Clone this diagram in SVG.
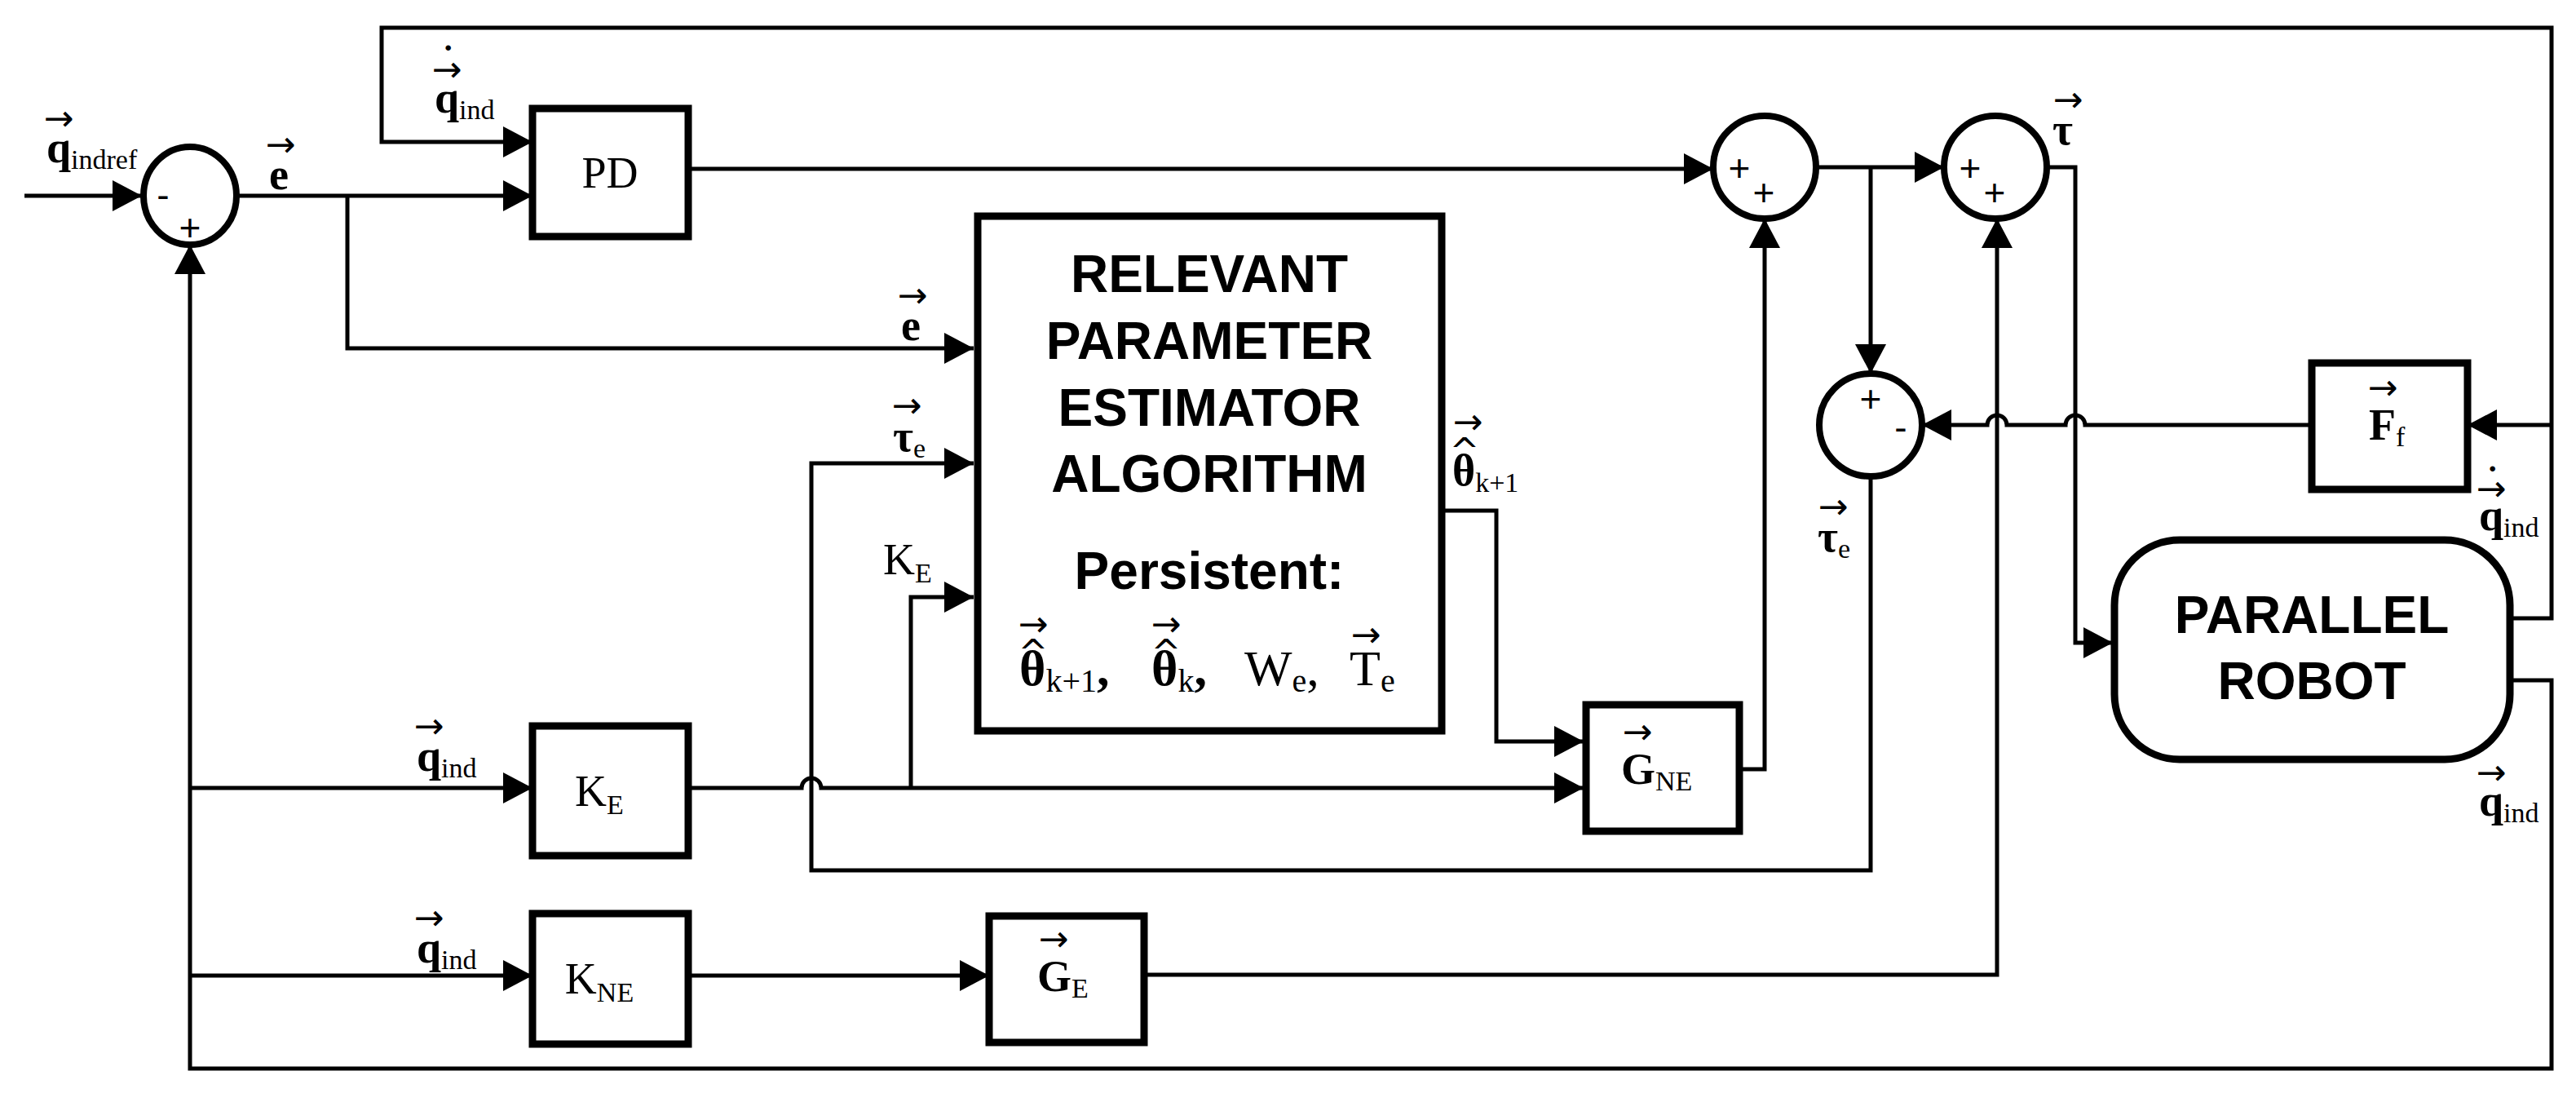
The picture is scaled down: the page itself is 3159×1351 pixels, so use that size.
<svg xmlns="http://www.w3.org/2000/svg" width="3159" height="1351" viewBox="0 0 3159 1351">
<style>
.w{fill:none;stroke:#000;stroke-width:5;stroke-linejoin:miter}
.b{fill:#fff;stroke:#000;stroke-width:9}
.c{fill:#fff;stroke:#000;stroke-width:8}
.m{font-family:"Liberation Serif",serif;font-size:54px;fill:#000}
.mb{font-family:"Liberation Serif",serif;font-size:54px;font-weight:bold;fill:#000}
.p{font-size:62px}
.s{font-size:34px;font-weight:normal}
.s2{font-size:40px;font-weight:normal}
.h{font-family:"Liberation Sans",Arial,sans-serif;font-weight:bold;font-size:64px;fill:#000;text-anchor:middle}
.sg{font-family:"Liberation Sans",Arial,sans-serif;font-size:46px;fill:#000;text-anchor:middle}
.ar{font-family:"DejaVu Sans",sans-serif;font-size:44px;fill:#000;text-anchor:middle}
</style>
<defs>
<marker id="a" markerUnits="userSpaceOnUse" markerWidth="40" markerHeight="40" refX="36" refY="19" orient="auto"><path d="M0,0 L36,19 L0,38 z" fill="#000"/></marker>
</defs>
<g id="connectors" class="w" marker-end="url(#a)">
<path d="M30,240 H174"/>
<path d="M291,240 H653"/>
<path d="M426,240 V427 H1194"/>
<path d="M844,207 H2101"/>
<path d="M2227,205 H2384"/>
<path d="M2294,205 V458"/>
<path d="M2510,205 H2545 V788 H2591"/>
<path d="M3078,758 H3129 V34 H468 V174 H653"/>
<path d="M3129,521 H3026"/>
<path d="M2835,521 H2557 A12,12 0 0 0 2533,521 H2461 A12,12 0 0 0 2437,521 H2357"/>
<path d="M3078,834 H3129 V1310 H233 V300"/>
<path d="M233,966 H653"/>
<path d="M233,1196 H653"/>
<path d="M844,966 H983 A12,12 0 0 1 1007,966 H1942"/>
<path d="M1117,966 V732 H1194"/>
<path d="M844,1196 H1213"/>
<path d="M1403,1195 H2449 V268"/>
<path d="M2133,943 H2164 V268"/>
<path d="M1768,626 H1835 V909 H1942"/>
<path d="M2294,584 V1067 H995 V568 H1194"/>
</g>
<g id="sum1"><ellipse class="c" cx="233" cy="240" rx="57" ry="60"/><text class="sg" x="200" y="255">-</text><text class="sg" x="233" y="295">+</text></g>
<g id="sum2"><circle class="c" cx="2164" cy="205" r="63"/><text class="sg" x="2133" y="222">+</text><text class="sg" x="2163" y="252">+</text></g>
<g id="sum3"><circle class="c" cx="2447" cy="205" r="63"/><text class="sg" x="2416" y="222">+</text><text class="sg" x="2446" y="252">+</text></g>
<g id="sum4"><circle class="c" cx="2294" cy="521" r="63"/><text class="sg" x="2294" y="505">+</text><text class="sg" x="2331" y="540">-</text></g>
<g id="PD"><rect class="b" x="653" y="133" width="191" height="157"/><text class="m" x="748" y="230" text-anchor="middle">PD</text></g>
<g id="KE"><rect class="b" x="653" y="890" width="191" height="159"/><text class="m" x="735" y="988" text-anchor="middle">K<tspan class="s" dy="10">E</tspan></text></g>
<g id="KNE"><rect class="b" x="653" y="1120" width="191" height="160"/><text class="m" x="735" y="1218" text-anchor="middle">K<tspan class="s" dy="10">NE</tspan></text></g>
<g id="estimator"><rect class="b" x="1199" y="265" width="569" height="631"/>
<text class="h" x="1483" y="358">RELEVANT</text><text class="h" x="1483" y="440">PARAMETER</text><text class="h" x="1483" y="522">ESTIMATOR</text><text class="h" x="1483" y="603">ALGORITHM</text><text class="h" x="1483" y="722">Persistent:</text>
<text class="mb p" x="1250" y="840">θ<tspan class="s2" dy="8">k+1</tspan><tspan dy="-8">,</tspan></text>
<text class="mb p" x="1412" y="840">θ<tspan class="s2" dy="8">k</tspan><tspan dy="-8">,</tspan></text>
<text class="m p" x="1526" y="840">W<tspan class="s2" dy="8">e</tspan><tspan dy="-8">,</tspan></text>
<text class="m p" x="1655" y="840">T<tspan class="s2" dy="8">e</tspan></text>
<text class="ar" x="1267" y="780">→</text><text class="ar" x="1267" y="815">^</text>
<text class="ar" x="1430" y="780">→</text><text class="ar" x="1430" y="815">^</text>
<text class="ar" x="1675" y="793">→</text>
</g>
<g id="GNE"><rect class="b" x="1945" y="864" width="188" height="155"/><text class="mb" x="1988" y="961">G<tspan class="s" dy="8">NE</tspan></text><text class="ar" x="2008" y="912">→</text></g>
<g id="GE"><rect class="b" x="1213" y="1123" width="190" height="155"/><text class="mb" x="1272" y="1215">G<tspan class="s" dy="8">E</tspan></text><text class="ar" x="1292" y="1166">→</text></g>
<g id="Ff"><rect class="b" x="2835" y="445" width="191" height="155"/><text class="mb" x="2905" y="539">F<tspan class="s" dy="8">f</tspan></text><text class="ar" x="2922" y="490">→</text></g>
<g id="robot"><rect class="b" x="2593" y="662" width="485" height="269" rx="80"/><text class="h" x="2835" y="776">PARALLEL</text><text class="h" x="2835" y="857">ROBOT</text></g>
<g id="labels">
<text class="mb" x="57" y="199">q<tspan class="s" dy="8">indref</tspan></text><text class="ar" x="72" y="160">→</text>
<text class="mb" x="330" y="232">e</text><text class="ar" x="344" y="192">→</text>
<text class="mb" x="533" y="138">q<tspan class="s" dy="8">ind</tspan></text><text class="ar" x="548" y="100">→</text><text class="mb" x="543" y="72" style="font-size:40px">·</text>
<text class="mb" x="1105" y="417">e</text><text class="ar" x="1119" y="377">→</text>
<text class="mb" x="1095" y="553">τ<tspan class="s" dy="8">e</tspan></text><text class="ar" x="1112" y="512">→</text>
<text class="m" x="1083" y="704">K<tspan class="s" dy="10">E</tspan></text>
<text class="mb" x="511" y="945">q<tspan class="s" dy="8">ind</tspan></text><text class="ar" x="526" y="905">→</text>
<text class="mb" x="511" y="1180">q<tspan class="s" dy="8">ind</tspan></text><text class="ar" x="526" y="1140">→</text>
<text class="mb" x="1781" y="595">θ<tspan class="s" dy="8">k+1</tspan></text><text class="ar" x="1800" y="532">→</text><text class="ar" x="1796" y="568">^</text>
<text class="mb" x="2517" y="177">τ</text><text class="ar" x="2536" y="137">→</text>
<text class="mb" x="2229" y="676">τ<tspan class="s" dy="8">e</tspan></text><text class="ar" x="2248" y="636">→</text>
<text class="mb" x="3040" y="650">q<tspan class="s" dy="8">ind</tspan></text><text class="ar" x="3055" y="614">→</text><text class="mb" x="3050" y="588" style="font-size:40px">·</text>
<text class="mb" x="3040" y="1000">q<tspan class="s" dy="8">ind</tspan></text><text class="ar" x="3055" y="962">→</text>
</g>
</svg>
